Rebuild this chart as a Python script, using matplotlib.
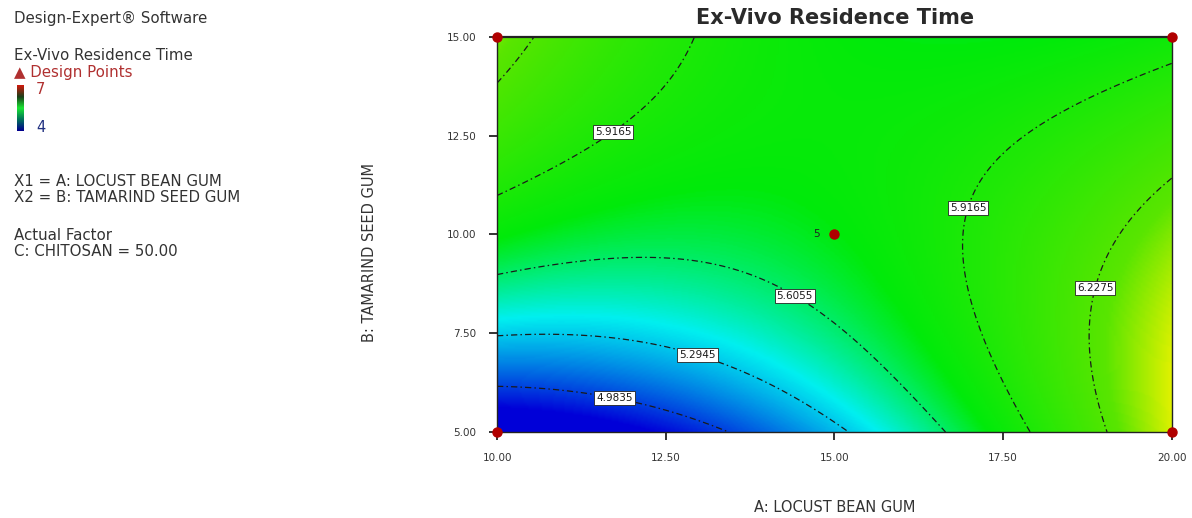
import numpy as np
import matplotlib
matplotlib.use("Agg")
import matplotlib.pyplot as plt
from matplotlib.colors import LinearSegmentedColormap

# factor ranges and ticks
a_ticks = [10.00, 12.50, 15.00, 17.50, 20.00]
b_ticks = [5.00, 7.50, 10.00, 12.50, 15.00]

# fitted model in coded units
# terms: 1, A, B, AB, A^2, B^2, A^3, B^3, A^2B, AB^2
coef = [5.7476, 0.3281, 0.1994, -0.5847, 0.3166, -0.2326, -0.0389, 0.0625, -0.0112, 0.0532]

# contour levels and where their labels sit
levels = [4.9835, 5.2945, 5.6055, 5.9165, 6.2275]
label_pos = [(11.75, 5.94), (13.0, 7.08), (14.49, 8.67), (11.75, 12.52), (16.93, 10.70), (18.79, 8.67)]

# design points
design_a = [10, 10, 20, 20, 15]
design_b = [5, 15, 5, 15, 10]
center_reps = "5"

color_min, color_max = 4.828, 7.036


def model(a, b):
    ca, cb = (a - 15) / 5, (b - 10) / 5
    t = [np.ones_like(ca), ca, cb, ca*cb, ca**2, cb**2, ca**3, cb**3, ca**2*cb, ca*cb**2]
    return sum(c * x for c, x in zip(coef, t))


AA, BB = np.meshgrid(np.linspace(10, 20, 300), np.linspace(5, 15, 300))
Z = model(AA, BB)

cmap = LinearSegmentedColormap.from_list(
    "de", [(0, (0, 0, 0.85)), (0.25, (0, 0.94, 0.94)), (0.42, (0, 0.92, 0.04)),
           (0.66, (0.35, 0.9, 0)), (0.78, (0.93, 0.95, 0)), (1, (1, 0, 0))])

fig = plt.figure(figsize=(11.92, 5.18), dpi=100)
ax = fig.add_axes([0.417, 0.166, 0.566, 0.763])
ax.imshow(Z, origin="lower", extent=[10, 20, 5, 15], aspect="auto", cmap=cmap,
          vmin=color_min, vmax=color_max, interpolation="bilinear")
cs = ax.contour(AA, BB, Z, levels=levels, colors="#1a1a1a", linewidths=0.9,
                linestyles=[(0, (5, 2.5, 1.2, 2.5))])
labels = ax.clabel(cs, fmt="%.4f", fontsize=7.5, manual=label_pos, inline=False)
for t in labels:
    t.set_rotation(0)
    t.set_zorder(8)
    t.set_bbox(dict(boxstyle="square,pad=0.2", fc="white", ec="#222222", lw=0.6))

ax.plot(design_a, design_b, "o", color="#b00000", markersize=6.5, clip_on=False, zorder=10)
ax.text(14.78, 10, center_reps, fontsize=7.5, ha="right", va="center", color="#222222", zorder=10)

ax.set_xlim(10, 20)
ax.set_ylim(5, 15)
ax.set_xticks(a_ticks)
ax.set_yticks(b_ticks)
ax.set_xticklabels(["%.2f" % v for v in a_ticks])
ax.set_yticklabels(["%.2f" % v for v in b_ticks])
ax.tick_params(direction="out", length=6, width=1.4, color="#333333", labelsize=7.5,
               labelcolor="#333333", pad=9)
for s in ax.spines.values():
    s.set_color("#222222")
    s.set_linewidth(1.0)
ax.spines["top"].set_linewidth(1.6)

fig.text(835 / 1192, 1 - 18 / 518, "Ex-Vivo Residence Time", fontsize=15, fontweight="bold",
         ha="center", va="center", color="#2a2a2a")
fig.text(835 / 1192, 1 - 507 / 518, "A: LOCUST BEAN GUM", fontsize=10.5, ha="center",
         va="center", color="#333333")
fig.text(370 / 1192, 1 - 252 / 518, "B: TAMARIND SEED GUM", fontsize=10.5, ha="center",
         va="center", rotation=90, color="#333333")

# left side legend block
def side(y, s, **kw):
    kw.setdefault("color", "#333333")
    kw.setdefault("fontsize", 10.8)
    fig.text(14 / 1192, 1 - y / 518, s, va="center", **kw)

side(18, "Design-Expert\u00ae Software")
side(56, "Ex-Vivo Residence Time")
side(73, "\u25b2 Design Points", color="#b03030")
side(181, "X1 = A: LOCUST BEAN GUM")
side(198, "X2 = B: TAMARIND SEED GUM")
side(235, "Actual Factor")
side(252, "C: CHITOSAN = 50.00")

cax = fig.add_axes([17 / 1192, 1 - 131 / 518, 7 / 1192, 46 / 518])
bar_cmap = LinearSegmentedColormap.from_list(
    "bar", [(0, 0, 0.55), (0, 0.45, 0.35), (0.1, 0.9, 0.2), (0.1, 0.25, 0.1), (0.8, 0.1, 0.05)])
cax.imshow(np.linspace(0, 1, 50)[:, None], origin="lower", aspect="auto", cmap=bar_cmap)
cax.set_axis_off()
fig.text(36 / 1192, 1 - 89 / 518, "7", fontsize=10.5, va="center", color="#b03030")
fig.text(36 / 1192, 1 - 127 / 518, "4", fontsize=10.5, va="center", color="#203080")

fig.savefig("out.png")
